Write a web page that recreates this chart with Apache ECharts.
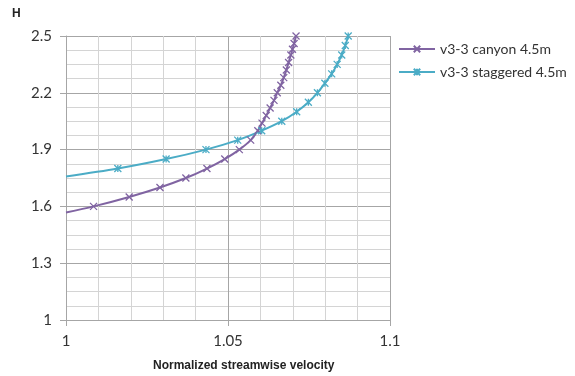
<!DOCTYPE html>
<html><head><meta charset="utf-8">
<script src="https://cdn.jsdelivr.net/npm/echarts@6/dist/echarts.min.js"></script>
<style>html,body{margin:0;padding:0;background:#fff}#c{width:575px;height:376px}</style>
</head><body><div id="c"></div>
<script>
var canyonX = [1.0, 1.0085, 1.0195, 1.029, 1.037, 1.0435, 1.049, 1.0535, 1.057, 1.0592, 1.0605, 1.0618, 1.063, 1.0642, 1.0652, 1.0663, 1.0672, 1.068, 1.0687, 1.0694, 1.0699, 1.0704, 1.071];
var canyonH = [1.568, 1.6, 1.65, 1.7, 1.75, 1.8, 1.85, 1.9, 1.95, 2.0, 2.04, 2.08, 2.12, 2.16, 2.2, 2.24, 2.28, 2.32, 2.36, 2.4, 2.43, 2.46, 2.5];
var staggX = [1.0, 1.016, 1.0309, 1.0432, 1.053, 1.0604, 1.0666, 1.0712, 1.0748, 1.0776, 1.0799, 1.082, 1.0837, 1.0851, 1.0862, 1.0871];
var staggH = [1.758, 1.8, 1.85, 1.9, 1.95, 2.0, 2.05, 2.1, 2.15, 2.2, 2.25, 2.3, 2.35, 2.4, 2.45, 2.5];
var seriesNames = ['v3-3 canyon 4.5m', 'v3-3 staggered 4.5m'];
var xTitle = 'Normalized streamwise velocity';
var yTitle = 'H';

function pts(xs, hs){ return xs.map(function(x,i){ var d={value:[x,hs[i]]}; if(i===0) d.symbol='none'; return d; }); }
var xSym = 'path://M0,0L10,10M10,0L0,10';
var aSym = 'path://M0,0L10,10M10,0L0,10M5,0L5,10';
var chart = echarts.init(document.getElementById('c'));
var fnt = 'Lato, "Open Sans", sans-serif';
chart.setOption({
  animation:false,
  grid:{left:66,right:185,top:36,bottom:56},
  legend:{orient:'vertical',left:393,top:37,itemGap:9,itemWidth:36,itemHeight:8,
    textStyle:{fontFamily:fnt,fontSize:14,color:'#333'},
    data:seriesNames},
  xAxis:{type:'value',min:1,max:1.1,interval:0.05,
    axisLine:{show:true,lineStyle:{color:'#a6a6a6'}},
    axisTick:{show:true,length:6,lineStyle:{color:'#a6a6a6'}},
    axisLabel:{fontFamily:fnt,fontSize:15,color:'#333',margin:14,formatter:function(v){return String(+v.toFixed(2));}},
    splitLine:{show:true,lineStyle:{color:'#a6a6a6',width:1}},
    minorTick:{show:false,splitNumber:5},
    minorSplitLine:{show:true,lineStyle:{color:'#d4d4d4',width:1}}},
  yAxis:{type:'value',min:1,max:2.5,interval:0.3,
    axisLine:{show:true,lineStyle:{color:'#a6a6a6'}},
    axisTick:{show:true,length:6,lineStyle:{color:'#a6a6a6'}},
    axisLabel:{fontFamily:fnt,fontSize:15,color:'#333',margin:14,formatter:function(v){return String(+v.toFixed(1));}},
    splitLine:{show:true,lineStyle:{color:'#a6a6a6',width:1}},
    minorTick:{show:false,splitNumber:4},
    minorSplitLine:{show:true,lineStyle:{color:'#d4d4d4',width:1}}},
  graphic:[
    {type:'text',left:12,top:8,style:{text:yTitle,font:'bold 12px Arial, "Liberation Sans", sans-serif',fill:'#222'}},
    {type:'text',left:153,top:360,style:{text:xTitle,font:'bold 12px Arial, "Liberation Sans", sans-serif',fill:'#222'}}
  ],
  series:[
    {name:seriesNames[0],type:'line',smooth:0.3,data:pts(canyonX,canyonH),symbol:xSym,symbolSize:7,
      lineStyle:{color:'#8064A2',width:2},itemStyle:{color:'#8064A2',borderColor:'#8064A2',borderWidth:1.3}},
    {name:seriesNames[1],type:'line',smooth:0.3,data:pts(staggX,staggH),symbol:aSym,symbolSize:7,
      lineStyle:{color:'#4BACC6',width:2},itemStyle:{color:'#4BACC6',borderColor:'#4BACC6',borderWidth:1.3}}
  ]
});
</script></body></html>
